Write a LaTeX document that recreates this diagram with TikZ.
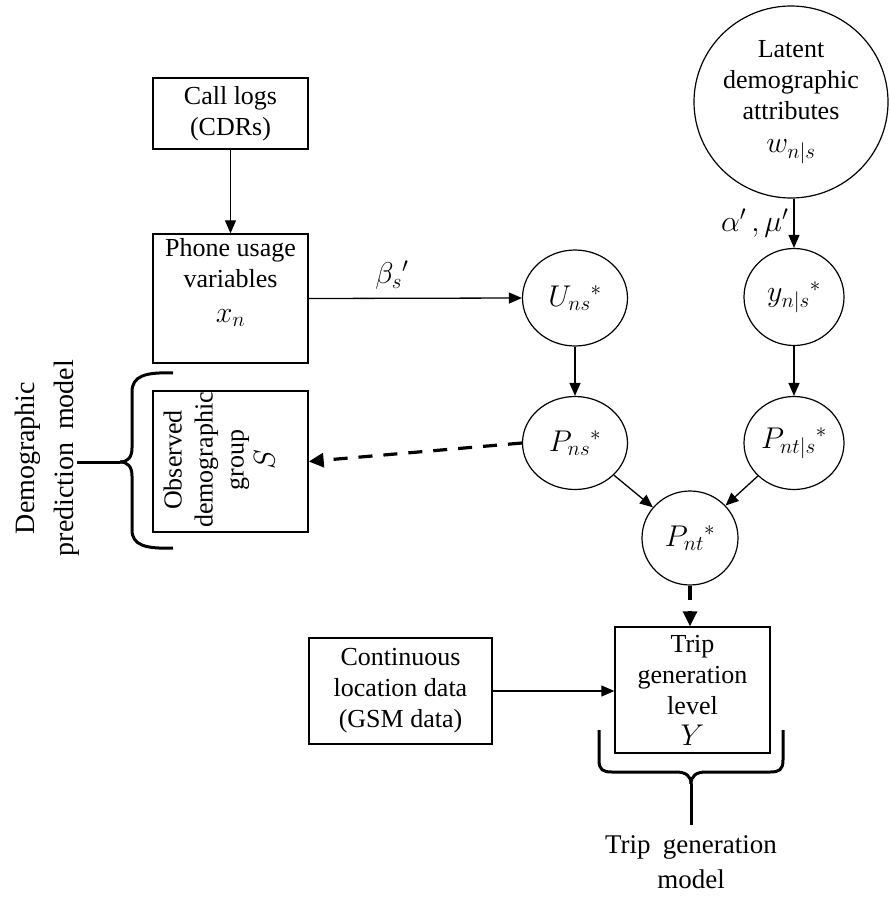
\RequirePackage{fix-cm}
\documentclass[tikz,border=0pt]{standalone}
\usepackage{fontspec}
\setmainfont{Liberation Serif}
\usetikzlibrary{arrows.meta,shapes.geometric}
\newcommand\mymf{\fontsize{30}{31}\selectfont}
\begin{document}
\begin{tikzpicture}[x=1pt,y=-1pt,
  font=\fontsize{26}{31}\selectfont,
  box/.style={draw, line width=1.4pt, inner sep=0pt, align=center},
  circ/.style={draw, ellipse, line width=1.2pt, inner sep=0pt, align=center},
  arr/.style={-{Triangle[length=13pt,width=11pt]}, line width=1.3pt},
  darr/.style={-{Triangle[length=15pt,width=14pt]}, line width=3.2pt, dash pattern=on 14pt off 11pt},
  brace/.style={line width=3pt},
  txt/.style={inner sep=0pt, align=center}]
\useasboundingbox (0,0) rectangle (889,897);

% boxes
\node[box, minimum width=155pt, minimum height=71pt] (call) at (230.5,113.5) {Call logs\\(CDRs)};
\node[box, minimum width=155pt, minimum height=129pt] (phone) at (230.5,298.5) {};
\node[txt, anchor=north] (phonetxt) at (230.5,238) {Phone usage\\variables\\[4pt]{\mymf$x_n$}};
\node[box, minimum width=155pt, minimum height=141pt] (obs) at (230.5,461.5) {};
\node[txt, rotate=90] (obstxt) at (219,460) {Observed\\demographic\\group\\{\mymf$S$}};
\node[box, minimum width=183pt, minimum height=106pt] (cont) at (400.5,691) {Continuous\\location data\\(GSM data)};
\node[box, minimum width=155pt, minimum height=126pt] (trip) at (692.5,690) {Trip\\generation\\level\\{\mymf$Y$}};

% circles
\node[circ, minimum width=194pt, minimum height=192pt] (lat) at (791,102) {Latent\\demographic\\attributes\\[2pt]{\mymf$w_{n|s}$}};
\node[circ, minimum width=105pt, minimum height=96pt, font=\mymf] (U) at (575,298) {$U_{ns}{}^{*}$};
\node[circ, minimum width=100pt, minimum height=97pt, font=\mymf] (y) at (794,297) {$y_{n|s}{}^{*}$};
\node[circ, minimum width=105pt, minimum height=93pt, font=\mymf] (Pns) at (575,443) {$P_{ns}{}^{*}$};
\node[circ, minimum width=100pt, minimum height=93pt, font=\mymf] (Pnts) at (794,443) {$P_{nt|s}{}^{*}$};
\node[circ, minimum width=96pt, minimum height=94pt, font=\mymf] (Pnt) at (690,538) {$P_{nt}{}^{*}$};

% connectors
\draw[arr] (call) -- (phone);
\draw[arr] (phone.east) -- node[txt, pos=0.39, above=8pt, font=\mymf] (beta) {$\beta_s{}'$} (U.west);
\draw[arr] (y.north |- lat.south) -- node[txt, left=5pt, font=\mymf] (am) {$\alpha'\,,\mu'$} (y.north);
\draw[arr] (U) -- (Pns);
\draw[arr] (y) -- (Pnts);
\draw[arr] (Pns) -- (Pnt);
\draw[arr] (Pnts) -- (Pnt);
\draw[arr] (cont.east) -- (cont.east -| trip.west);
\draw[darr] (Pns.west) -- (obs.east);
\draw[darr] (Pnt.south) -- (Pnt.south |- trip.north);

% left brace and label
\coordinate (lb1) at (173,373);
\coordinate (lb2) at (173,548);
\coordinate (lbc) at (120,462);
\coordinate (lbe) at (77,462);
\draw[brace] (lb1) .. controls (145,372) and (132,376) .. (132,392) -- (132,448) .. controls (132,457) and (128,462) .. (lbc);
\draw[brace] (lb2) .. controls (145,549) and (132,545) .. (132,530) -- (132,476) .. controls (132,467) and (128,462) .. (lbc);
\draw[brace] (lbc) -- (lbe);
\node[txt, rotate=90, font=\fontsize{28}{39}\selectfont] (demlab) at (47,458) {Demographic\\prediction\hspace{0.45em}model};

% bottom brace and label
\coordinate (bb1) at (599,730);
\coordinate (bb2) at (783,730);
\coordinate (bbc) at (691,784);
\coordinate (bbe) at (691,825);
\draw[brace] (bb1) -- (599,760) .. controls (599,770) and (603,772) .. (612,772) -- (676,772) .. controls (686,772) and (691,776) .. (bbc);
\draw[brace] (bb2) -- (783,760) .. controls (783,770) and (779,772) .. (770,772) -- (706,772) .. controls (696,772) and (691,776) .. (bbc);
\draw[brace] (bbc) -- (bbe);
\node[txt, font=\fontsize{27}{35}\selectfont] (triplab) at (691,862) {Trip\hspace{0.45em}generation\\model};
\end{tikzpicture}
\end{document}
